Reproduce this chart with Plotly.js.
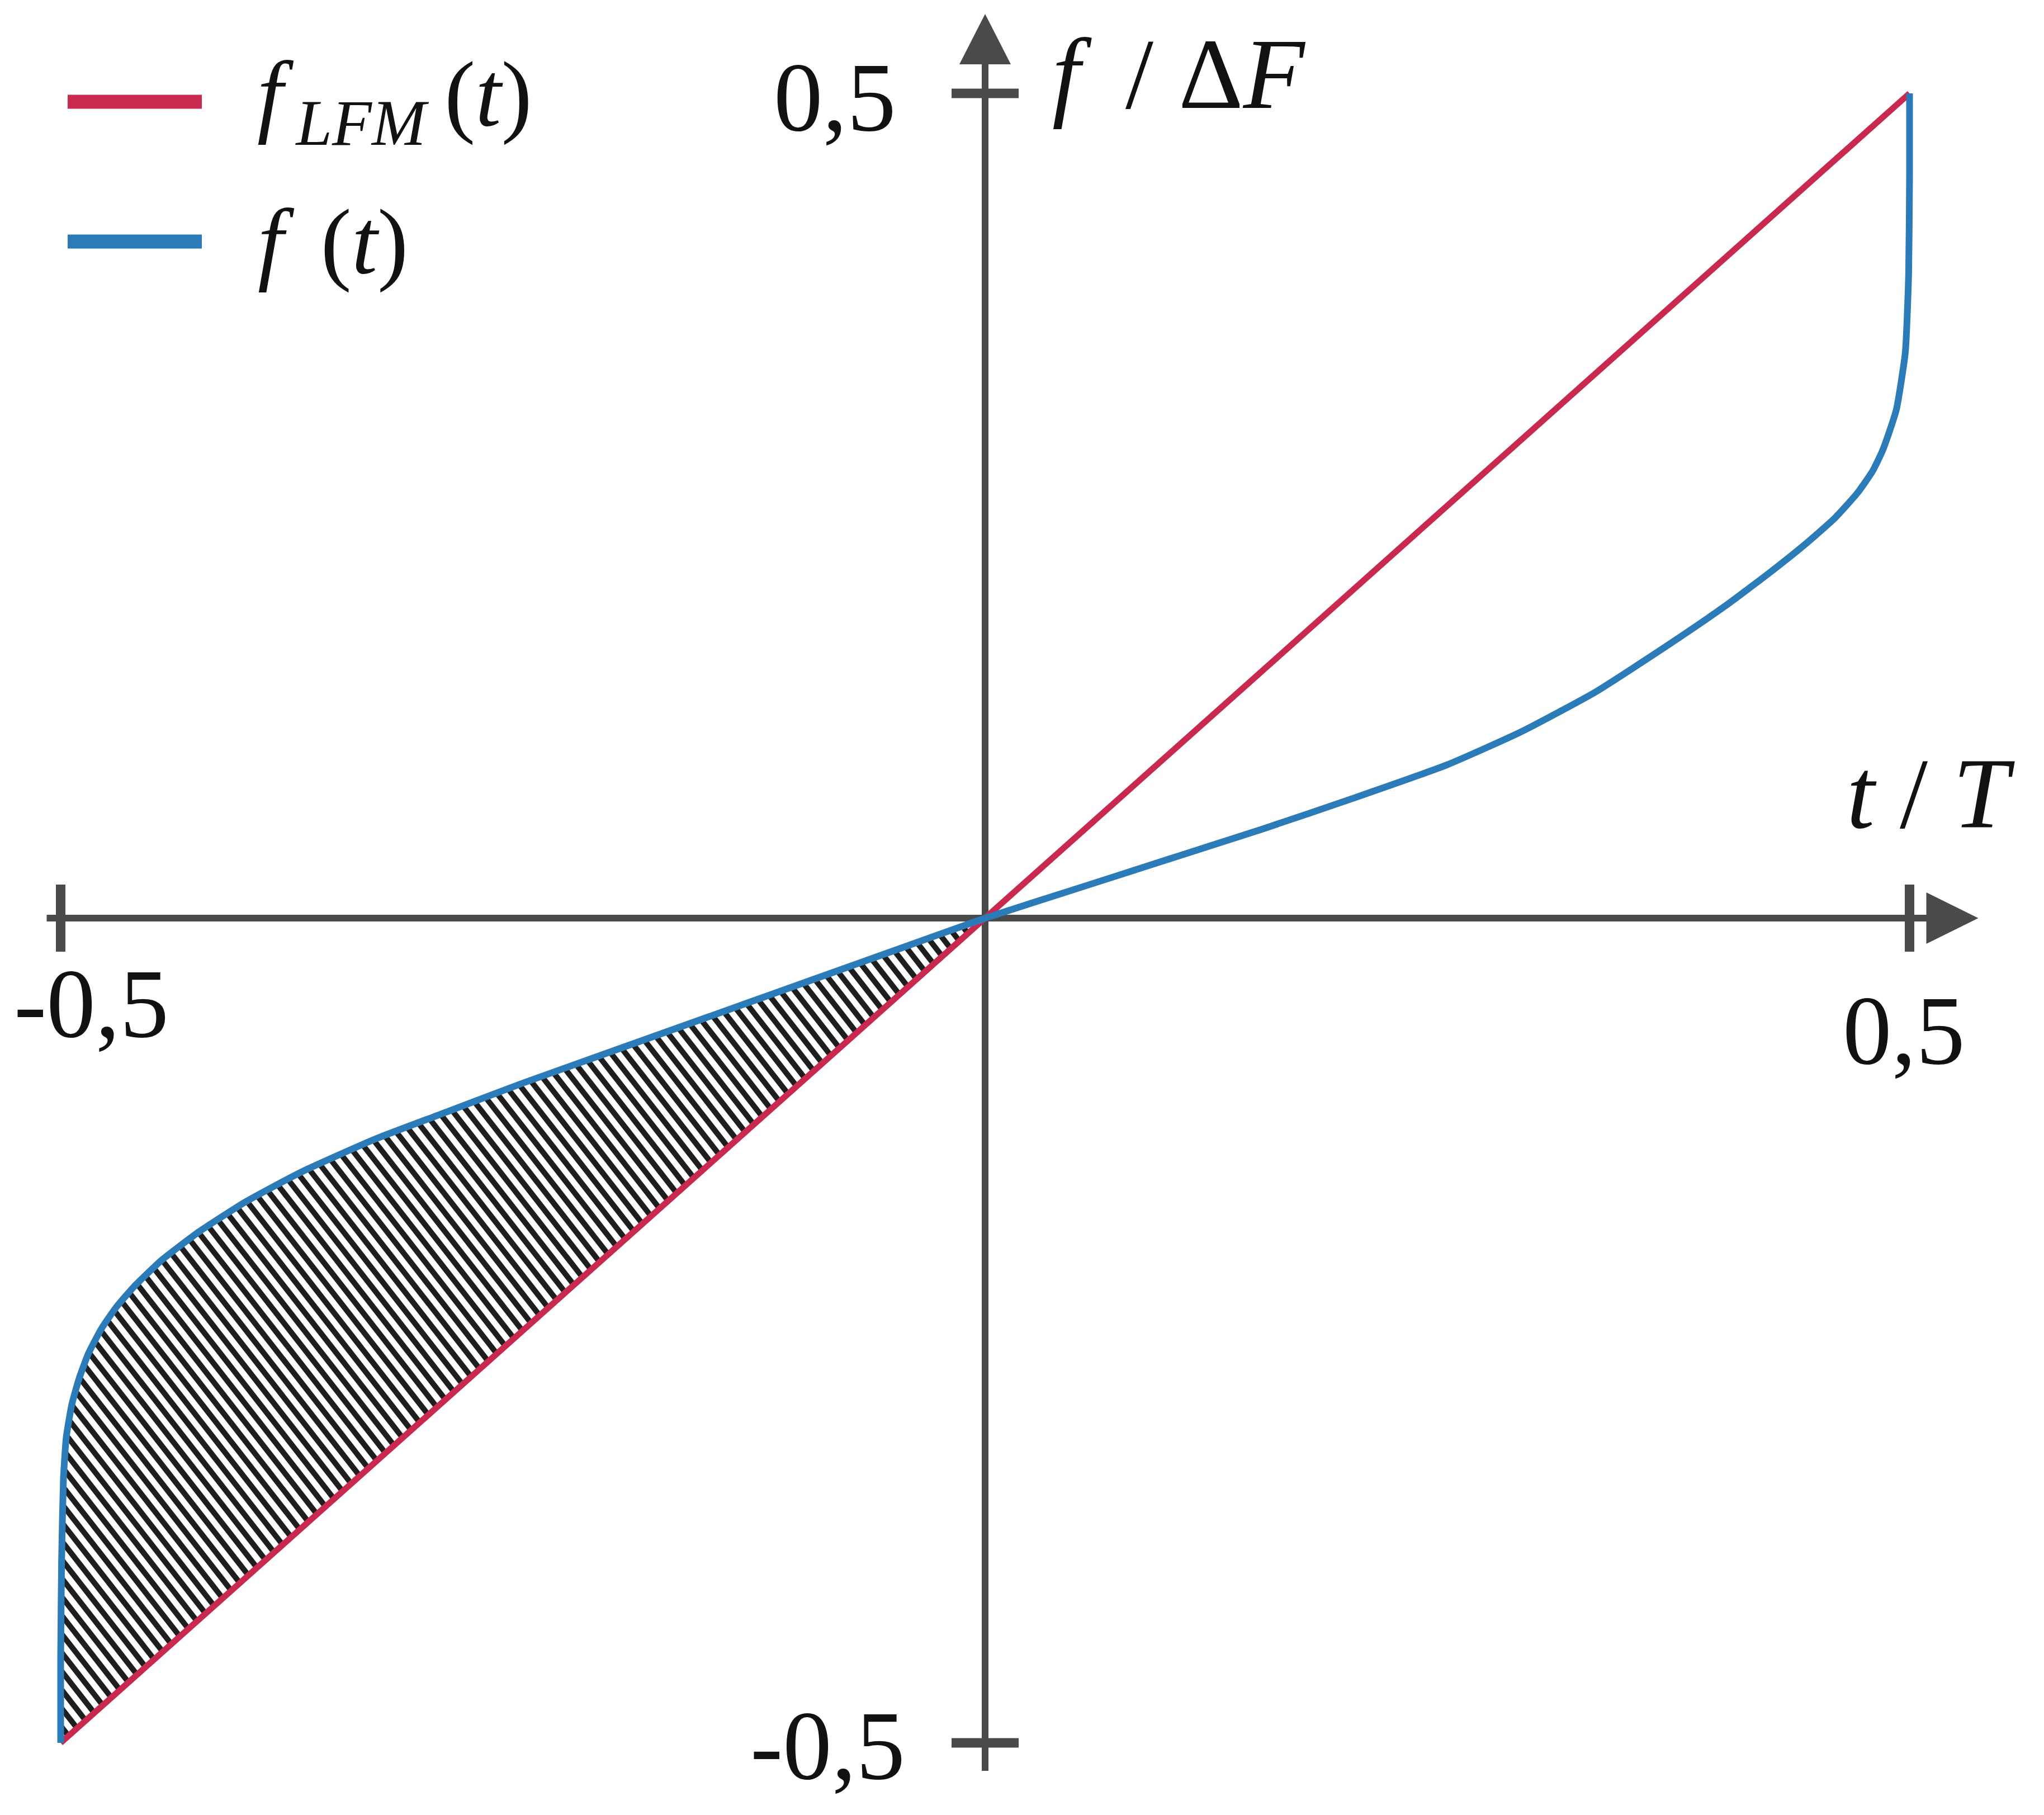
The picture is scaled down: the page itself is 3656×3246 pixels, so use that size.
<!DOCTYPE html>
<html>
<head>
<meta charset="utf-8">
<script src="https://cdn.plot.ly/plotly-3.0.1.min.js"></script>
<style>html,body{margin:0;padding:0;background:#fff;}</style>
</head>
<body>
<div id="chart" style="width:3656px;height:3246px;"></div>
<script>
// normalised time t/T and frequency f/dF
const tLfm = [-0.5, 0.5];
const fLfm = [-0.5, 0.5];

// non-linear law f(t)
const tNlfm = [-0.5, -0.5, -0.4995, -0.4985, -0.497, -0.494, -0.49, -0.485, -0.478, -0.47,
               -0.46, -0.445, -0.425, -0.4, -0.37, -0.33, -0.29, -0.25, -0.2, -0.15,
               -0.1, -0.05, 0, 0.05, 0.1, 0.15, 0.2, 0.25, 0.29, 0.33,
               0.37, 0.4, 0.425, 0.445, 0.46, 0.472, 0.48, 0.4856, 0.4928, 0.4977,
               0.4995, 0.5, 0.5];
const fNlfm = [-0.5, -0.45, -0.39, -0.34, -0.315, -0.295, -0.279, -0.264, -0.249, -0.236,
               -0.223, -0.207, -0.19, -0.172, -0.154, -0.134, -0.117, -0.1, -0.08, -0.06,
               -0.04, -0.02, 0, 0.018, 0.036, 0.054, 0.073, 0.093, 0.113, 0.137,
               0.166, 0.189, 0.21, 0.228, 0.243, 0.258, 0.271, 0.284, 0.308, 0.343,
               0.39, 0.45, 0.5];

const tickVals = [-0.5, 0.5];
const tickText = ["-0,5", "0,5"];

const W = 3656, H = 3246;
const X_RANGE = [-0.53281, 0.57272];
const Y_RANGE = [-0.54373, 0.55661];
const dx = (X_RANGE[1] - X_RANGE[0]) / W;   // data per pixel
const dy = (Y_RANGE[1] - Y_RANGE[0]) / H;

const RED = "#c9284f", BLUE = "#2c7bb9", AXIS = "#4a4a4a", INK = "#111111";
const FONT = "Liberation Serif, Times New Roman, serif";

// hatched area between f(t) and the LFM line for t <= 0
const hatchT = [], hatchF = [];
tNlfm.forEach((t, i) => { if (t <= 0) { hatchT.push(t); hatchF.push(fNlfm[i]); } });

function nlfmInverse(f) {
    for (let i = 1; i < hatchF.length; i++) {
        if (f <= hatchF[i]) {
            const a = (f - hatchF[i - 1]) / (hatchF[i] - hatchF[i - 1]);
            return hatchT[i - 1] + a * (hatchT[i] - hatchT[i - 1]);
        }
    }
    return 0;
}
function inHatch(t, f) {
    return t <= 0 && f <= 0 && f >= t && t >= nlfmInverse(f);
}

const HATCH_ANGLE = 52 * Math.PI / 180;   // screen angle of the stripes
const HATCH_STEP = 26;                     // px between stripes, horizontally
const k = 1 / Math.tan(HATCH_ANGLE);
const pxX = t => (t - X_RANGE[0]) / dx;
const pxY = f => (Y_RANGE[1] - f) / dy;

const stripeX = [], stripeY = [];
const yTop = pxY(0), yBot = pxY(-0.5);
const cMax = pxX(0) - k * yTop, cMin = pxX(-0.5) - k * yBot;
for (let c = cMax; c > cMin; c -= HATCH_STEP) {
    let first = null, last = null;
    for (let Y = yTop; Y <= yBot; Y += 0.5) {
        const t = X_RANGE[0] + (c + k * Y) * dx;
        const f = Y_RANGE[1] - Y * dy;
        if (inHatch(t, f)) {
            if (!first) first = [t, f];
            last = [t, f];
        }
    }
    if (first && last !== first) {
        stripeX.push(first[0], last[0], null);
        stripeY.push(first[1], last[1], null);
    }
}

const traces = [
    {
        x: stripeX, y: stripeY, type: "scatter", mode: "lines",
        line: { color: "#1e1e1e", width: 10 }, connectgaps: false,
        hoverinfo: "skip", showlegend: false
    },
    {
        name: "f_LFM(t)", x: tLfm, y: fLfm, type: "scatter", mode: "lines",
        line: { color: RED, width: 11 }, showlegend: false
    },
    {
        name: "f(t)", x: tNlfm, y: fNlfm, type: "scatter", mode: "lines",
        line: { color: BLUE, width: 12, shape: "spline", smoothing: 0.5 }, showlegend: false
    }
];

const shapes = [];
// axes with arrow heads
shapes.push({ type: "line", xref: "x", yref: "y", layer: "below",
    x0: tickVals[0] - 25 * dx, x1: tickVals[1] + 60 * dx, y0: 0, y1: 0,
    line: { color: AXIS, width: 12 } });
shapes.push({ type: "line", xref: "x", yref: "y", layer: "below",
    x0: 0, x1: 0, y0: tickVals[0] - 50 * dy, y1: tickVals[1] + 60 * dy,
    line: { color: AXIS, width: 12 } });
shapes.push({ type: "path", xref: "x", yref: "y", layer: "below",
    path: `M${tickVals[1] + 30 * dx},${46 * dy} L${tickVals[1] + 123 * dx},0 L${tickVals[1] + 30 * dx},${-46 * dy} Z`,
    fillcolor: AXIS, line: { width: 0 } });
shapes.push({ type: "path", xref: "x", yref: "y", layer: "below",
    path: `M${-46 * dx},${tickVals[1] + 52 * dy} L0,${tickVals[1] + 142 * dy} L${46 * dx},${tickVals[1] + 52 * dy} Z`,
    fillcolor: AXIS, line: { width: 0 } });
// crossing tick marks
tickVals.forEach(v => {
    shapes.push({ type: "line", xref: "x", yref: "y", layer: "below",
        x0: v, x1: v, y0: -60 * dy, y1: 60 * dy, line: { color: AXIS, width: 17 } });
    shapes.push({ type: "line", xref: "x", yref: "y", layer: "below",
        x0: -60 * dx, x1: 60 * dx, y0: v, y1: v, line: { color: AXIS, width: 17 } });
});
// legend swatches
[[RED, 182], [BLUE, 432]].forEach(([c, py]) => {
    shapes.push({ type: "line", xref: "paper", yref: "paper",
        x0: 121 / W, x1: 361 / W, y0: 1 - py / H, y1: 1 - py / H,
        line: { color: c, width: 25 } });
});

const tickFont = { family: FONT, size: 175, color: INK };
const labelFont = { family: FONT, size: 180, color: INK };
const legendFont = { family: FONT, size: 166, color: INK };
const THIN = "\u2009";

const annotations = [
    // x tick labels
    { x: tickVals[0], y: 0, text: tickText[0], xshift: 55, yshift: -153 },
    { x: tickVals[1], y: 0, text: tickText[1], xshift: -10, yshift: -201 },
    // y tick labels
    { x: 0, y: tickVals[1], text: tickText[1], xanchor: "right", xshift: -157, yshift: -7 },
    { x: 0, y: tickVals[0], text: tickText[0], xanchor: "right", xshift: -141, yshift: -5 }
].map(a => Object.assign({ xref: "x", yref: "y", showarrow: false, yanchor: "middle",
                           xanchor: "center", font: tickFont }, a));

annotations.push(
    { xref: "x", yref: "y", x: 0, y: tickVals[1], xanchor: "left", yanchor: "middle",
      xshift: 118, yshift: 35, showarrow: false, font: labelFont,
      text: "<i>f</i>" + THIN + " / Δ<i>F</i>" },
    { xref: "x", yref: "y", x: tickVals[1], y: 0, xanchor: "left", yanchor: "middle",
      xshift: -115, yshift: 223, showarrow: false, font: labelFont,
      text: "<i>t</i> / <i>T</i>" },
    { xref: "paper", yref: "paper", x: 458 / W, y: 1 - 180 / H, xanchor: "left", yanchor: "middle",
      showarrow: false, font: legendFont,
      text: "<i>f</i><sub>" + THIN + "<i>LFM</i></sub>" + THIN + "(<i>t</i>)" },
    { xref: "paper", yref: "paper", x: 459 / W, y: 1 - 432 / H, xanchor: "left", yanchor: "middle",
      showarrow: false, font: legendFont,
      text: "<i>f</i>" + THIN + THIN + "(<i>t</i>)" }
);

const layout = {
    width: W, height: H,
    margin: { l: 0, r: 0, t: 0, b: 0, pad: 0 },
    paper_bgcolor: "#ffffff", plot_bgcolor: "#ffffff",
    showlegend: false,
    xaxis: { range: X_RANGE, visible: false, fixedrange: true },
    yaxis: { range: Y_RANGE, visible: false, fixedrange: true },
    shapes: shapes,
    annotations: annotations
};

Plotly.newPlot("chart", traces, layout, { staticPlot: true, displayModeBar: false });
</script>
</body>
</html>
